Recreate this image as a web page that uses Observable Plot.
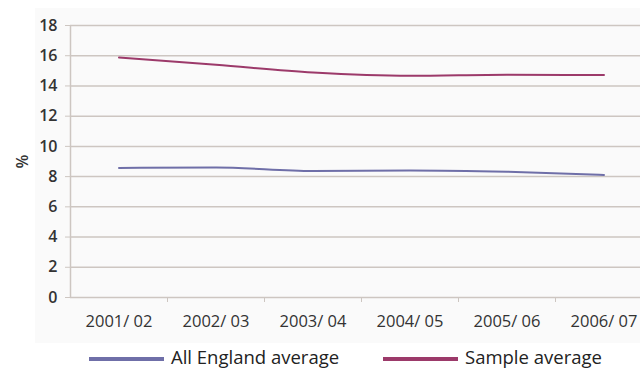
<!DOCTYPE html>
<html>
<head>
<meta charset="utf-8">
<script src="https://cdn.jsdelivr.net/npm/d3@7"></script>
<script src="https://cdn.jsdelivr.net/npm/@observablehq/plot@0.6"></script>
<style>
  html, body { margin: 0; padding: 0; background: #ffffff; overflow: hidden; }
  #wrap { position: relative; width: 640px; height: 369px; overflow: hidden; font-family: "Open Sans", sans-serif; }
  #panel { position: absolute; left: 35px; top: 8px; width: 605px; height: 335px; background: #fafafa; }
  #chart { position: absolute; left: 0; top: 0; }
  #legend { position: absolute; left: 0; top: 346px; width: 640px; height: 22px; }
  .item { position: absolute; top: 0; display: flex; align-items: center; height: 22px; }
  .swatch { width: 75px; height: 4px; margin-right: 7px; margin-top: 4px; }
  .label { font-size: 18.5px; color: #222; line-height: 22px; white-space: nowrap; }
</style>
</head>
<body>
<div id="wrap">
  <div id="panel"></div>
  <div id="chart"></div>
  <div id="legend"></div>
</div>
<script>
// Financial years on the horizontal axis
const years = ["2001/ 02", "2002/ 03", "2003/ 04", "2004/ 05", "2005/ 06", "2006/ 07"];
// Percentages per year for each series
const englandValues = [8.57, 8.61, 8.37, 8.41, 8.32, 8.11];
const sampleValues = [15.88, 15.40, 14.89, 14.67, 14.74, 14.72];
// Series names and colours
const seriesNames = ["All England average", "Sample average"];
const seriesColors = ["#6f6fa8", "#9c3a6a"];
// Y-axis tick values
const yTicks = [0, 2, 4, 6, 8, 10, 12, 14, 16, 18];

const rows = [];
years.forEach((y, i) => {
  rows.push({year: y, pos: i + 0.5, value: englandValues[i], series: seriesNames[0]});
  rows.push({year: y, pos: i + 0.5, value: sampleValues[i], series: seriesNames[1]});
});
const centers = years.map((_, i) => i + 0.5);
const boundaries = years.map((_, i) => i + 1);

const gridColor = "#cdc6c1";

const chart = Plot.plot({
  width: 640,
  height: 340,
  marginLeft: 70,
  marginRight: 0,
  marginTop: 25,
  marginBottom: 43,
  style: {background: "transparent", fontFamily: "Open Sans, sans-serif", overflow: "visible"},
  x: {domain: [0, years.length], range: [70, 652], label: null},
  y: {domain: [0, 18]},
  color: {domain: seriesNames, range: seriesColors},
  marks: [
    Plot.ruleY(yTicks, {stroke: gridColor, strokeWidth: 1.5}),
    Plot.ruleX([0], {y1: 0, y2: 18, stroke: gridColor, strokeWidth: 1.5}),
    Plot.axisY({
      ticks: yTicks, tickSize: 5, tickPadding: 8, stroke: gridColor,
      fontSize: 16, fontWeight: 600, color: "#333",
      label: "%", labelAnchor: "center", labelArrow: "none", labelOffset: 54
    }),
    Plot.axisX({ticks: boundaries, tickSize: 5, tickFormat: () => "", stroke: gridColor, label: null}),
    Plot.axisX({
      ticks: centers, tickSize: 0, tickPadding: 18,
      tickFormat: (d) => years[Math.round(d - 0.5)],
      fontSize: 16.5, color: "#333", label: null
    }),
    Plot.line(rows, {x: "pos", y: "value", z: "series", stroke: "series", strokeWidth: 2, curve: "monotone-x"})
  ]
});
document.getElementById("chart").appendChild(chart);

// Legend below the chart
const legend = document.getElementById("legend");
const legendLeft = [89, 383];
seriesNames.forEach((name, i) => {
  const item = document.createElement("div");
  item.className = "item";
  item.style.left = legendLeft[i] + "px";
  const sw = document.createElement("div");
  sw.className = "swatch";
  sw.style.background = seriesColors[i];
  const lab = document.createElement("span");
  lab.className = "label";
  lab.textContent = name;
  item.appendChild(sw);
  item.appendChild(lab);
  legend.appendChild(item);
});
</script>
</body>
</html>
